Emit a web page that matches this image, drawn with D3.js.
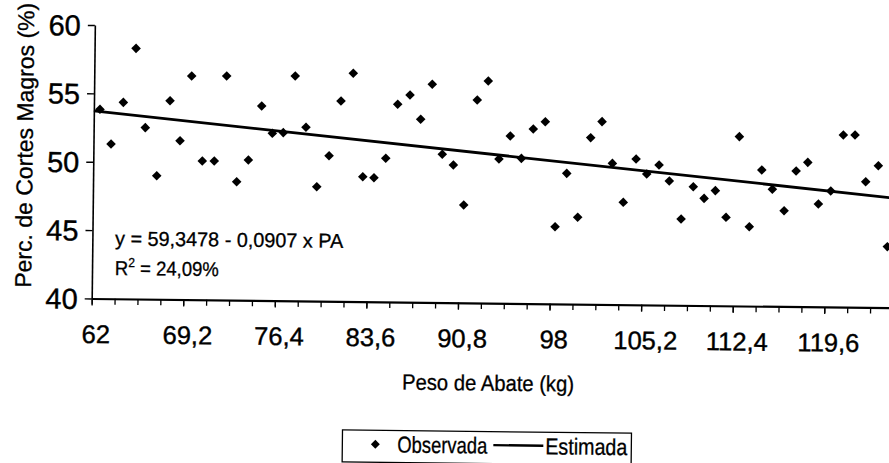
<!DOCTYPE html>
<html><head><meta charset="utf-8">
<script src="https://cdn.jsdelivr.net/npm/d3@7/dist/d3.min.js"></script>
<style>body{margin:0;background:#fff}svg{display:block}</style>
</head><body>
<svg id="c" width="889" height="463"></svg>
<script>
// Observed data: slaughter weight (kg) vs lean cuts (%)
const pesoAbate = [62.48, 63.38, 64.31, 65.26, 66.06, 67.00, 67.98, 68.80, 69.66, 70.57,
  71.51, 72.41, 73.29, 74.19, 75.19, 76.05, 76.91, 77.80, 78.69, 79.59,
  80.53, 81.42, 82.36, 83.20, 84.08, 84.99, 85.88, 86.84, 87.70, 88.58,
  89.43, 90.31, 91.16, 92.13, 92.98, 93.89, 94.76, 95.65, 96.56, 97.50,
  98.36, 99.23, 100.13, 101.08, 101.96, 102.81, 103.70, 104.67, 105.52, 106.48,
  107.30, 108.26, 109.19, 110.05, 110.93, 111.79, 112.77, 113.63, 114.56, 115.41,
  116.35, 117.26, 118.17, 119.04, 120.00, 120.94, 121.86, 122.74, 123.72, 124.50];
const cortesMagros = [53.84, 51.31, 54.37, 58.33, 52.54, 49.03, 54.53, 51.61, 56.35, 50.15,
  50.16, 56.38, 48.66, 50.26, 54.22, 52.23, 52.29, 56.44, 52.70, 48.36,
  50.64, 54.65, 56.69, 49.13, 49.07, 50.50, 54.46, 55.15, 53.38, 55.95,
  50.84, 50.07, 47.15, 54.84, 56.24, 50.54, 52.23, 50.61, 52.77, 53.31,
  45.64, 49.55, 46.35, 52.18, 53.36, 50.32, 47.48, 50.66, 49.57, 50.24,
  49.08, 46.31, 48.68, 47.84, 48.41, 46.47, 52.38, 45.80, 49.96, 48.56,
  47.00, 49.92, 50.56, 47.52, 48.48, 52.59, 52.60, 49.19, 50.37, 44.46];
// Estimated line (y = 59,3478 - 0,0907 x PA) at the axis ends
const estimadaX = [62, 126.8];
const estimadaY = [53.72, 47.85];

const xTickValues = [62, 69.2, 76.4, 83.6, 90.8, 98, 105.2, 112.4, 119.6];
const xTickLabels = ["62", "69,2", "76,4", "83,6", "90,8", "98", "105,2", "112,4", "119,6"];
const yTickValues = [40, 45, 50, 55, 60];
const yTickLabels = ["40", "45", "50", "55", "60"];
const legendLabels = ["Observada", "Estimada"];
const xTitle = "Peso de Abate (kg)";
const yTitle = "Perc. de Cortes Magros (%)";
const eqText = "y = 59,3478 - 0,0907 x PA";

const svg = d3.select("#c");
svg.append("rect").attr("width", 889).attr("height", 463).attr("fill", "#fff");
const g = svg.append("g").attr("transform", "rotate(0.66, 91.7, 298.5)");

const x = d3.scaleLinear().domain([62, 126.8]).range([91.7, 91.7 + 64.8 * 12.72]);
const y = d3.scaleLinear().domain([40, 60]).range([298.5, 25]);

const narrow = "'Liberation Sans Narrow', 'Liberation Sans', Arial, sans-serif";
const sans = "'Liberation Sans', Arial, sans-serif";

// X axis: minor ticks
const minor = d3.range(0, 37).map(i => 62 + i * 1.8);
g.append("g").attr("transform", "translate(0,298.5)")
  .call(d3.axisBottom(x).tickValues(minor).tickSize(6).tickSizeOuter(0).tickFormat(""))
  .call(a => a.select(".domain").attr("stroke-width", 2.2))
  .call(a => a.selectAll(".tick line").attr("stroke-width", 1.3));
// X axis labels
g.append("g").attr("transform", "translate(0,298.5)")
  .call(d3.axisBottom(x).tickValues(xTickValues).tickSize(7).tickSizeOuter(0)
    .tickFormat((d, i) => xTickLabels[i]))
  .call(a => a.select(".domain").remove())
  .call(a => a.selectAll(".tick line").attr("stroke-width", 1.3))
  .call(a => a.selectAll(".tick text").attr("y", 44.5).attr("dy", 0).attr("dx", 4)
    .attr("font-family", sans).attr("font-size", 25.5).attr("fill", "#000")
    .attr("stroke", "#000").attr("stroke-width", 0.4));

// Y axis
g.append("g").attr("transform", "translate(91.7,0)")
  .call(d3.axisLeft(y).tickValues(yTickValues).tickSize(7).tickSizeOuter(0)
    .tickFormat((d, i) => yTickLabels[i]))
  .call(a => a.select(".domain").attr("stroke-width", 1.6))
  .call(a => a.selectAll(".tick line").attr("stroke-width", 1.4))
  .call(a => a.selectAll(".tick text").attr("x", -14).attr("dy", "0.35em")
    .attr("font-family", sans).attr("font-size", 29).attr("fill", "#000")
    .attr("stroke", "#000").attr("stroke-width", 0.4));

// Estimated line
const line = d3.line().x(d => x(d[0])).y(d => y(d[1]));
g.append("path").datum(estimadaX.map((v, i) => [v, estimadaY[i]]))
  .attr("d", line).attr("fill", "none").attr("stroke", "#000").attr("stroke-width", 2.8);

// Observed points (diamonds)
const diamond = d3.symbol(d3.symbolSquare, 46)();
g.append("g").selectAll("path").data(pesoAbate.map((v, i) => [v, cortesMagros[i]]))
  .join("path").attr("d", diamond)
  .attr("transform", d => `translate(${x(d[0])},${y(d[1])}) rotate(45)`)
  .attr("fill", "#000");

// Equation
g.append("text").attr("x", 114.5).attr("y", 245).attr("font-family", sans).attr("font-size", 20)
  .attr("textLength", 228).attr("lengthAdjust", "spacingAndGlyphs")
  .attr("stroke", "#000").attr("stroke-width", 0.3).text(eqText);
const r2 = g.append("text").attr("x", 114.5).attr("y", 274.7).attr("font-family", sans).attr("font-size", 20)
  .attr("textLength", 104).attr("lengthAdjust", "spacingAndGlyphs")
  .attr("stroke", "#000").attr("stroke-width", 0.3);
r2.append("tspan").text("R");
r2.append("tspan").attr("font-size", 13).attr("dy", -8).text("2");
r2.append("tspan").attr("dy", 8).text(" = 24,09%");

// Axis titles
g.append("text").attr("transform", "translate(31,146) rotate(-90)").attr("text-anchor", "middle")
  .attr("font-family", sans).attr("font-size", 23).attr("stroke", "#000").attr("stroke-width", 0.3)
  .text(yTitle);
g.append("text").attr("x", 489 - 86).attr("y", 386).attr("font-family", narrow).attr("font-size", 22)
  .attr("textLength", 172).attr("lengthAdjust", "spacingAndGlyphs")
  .attr("stroke", "#000").attr("stroke-width", 0.3).text(xTitle);

// Legend
const lg = g.append("g");
lg.append("rect").attr("x", 344).attr("y", 427).attr("width", 289).attr("height", 32)
  .attr("fill", "none").attr("stroke", "#000").attr("stroke-width", 1.3);
lg.append("path").attr("d", d3.symbol(d3.symbolSquare, 40)())
  .attr("transform", "translate(377,441) rotate(45)").attr("fill", "#000");
lg.append("text").attr("x", 399).attr("y", 449).attr("font-family", narrow).attr("font-size", 23)
  .attr("textLength", 90).attr("lengthAdjust", "spacingAndGlyphs")
  .attr("stroke", "#000").attr("stroke-width", 0.3).text(legendLabels[0]);
lg.append("line").attr("x1", 495).attr("x2", 545).attr("y1", 440.5).attr("y2", 440.5)
  .attr("stroke", "#000").attr("stroke-width", 2.4);
lg.append("text").attr("x", 547).attr("y", 449).attr("font-family", narrow).attr("font-size", 23)
  .attr("textLength", 82).attr("lengthAdjust", "spacingAndGlyphs")
  .attr("stroke", "#000").attr("stroke-width", 0.3).text(legendLabels[1]);
</script>
</body></html>
